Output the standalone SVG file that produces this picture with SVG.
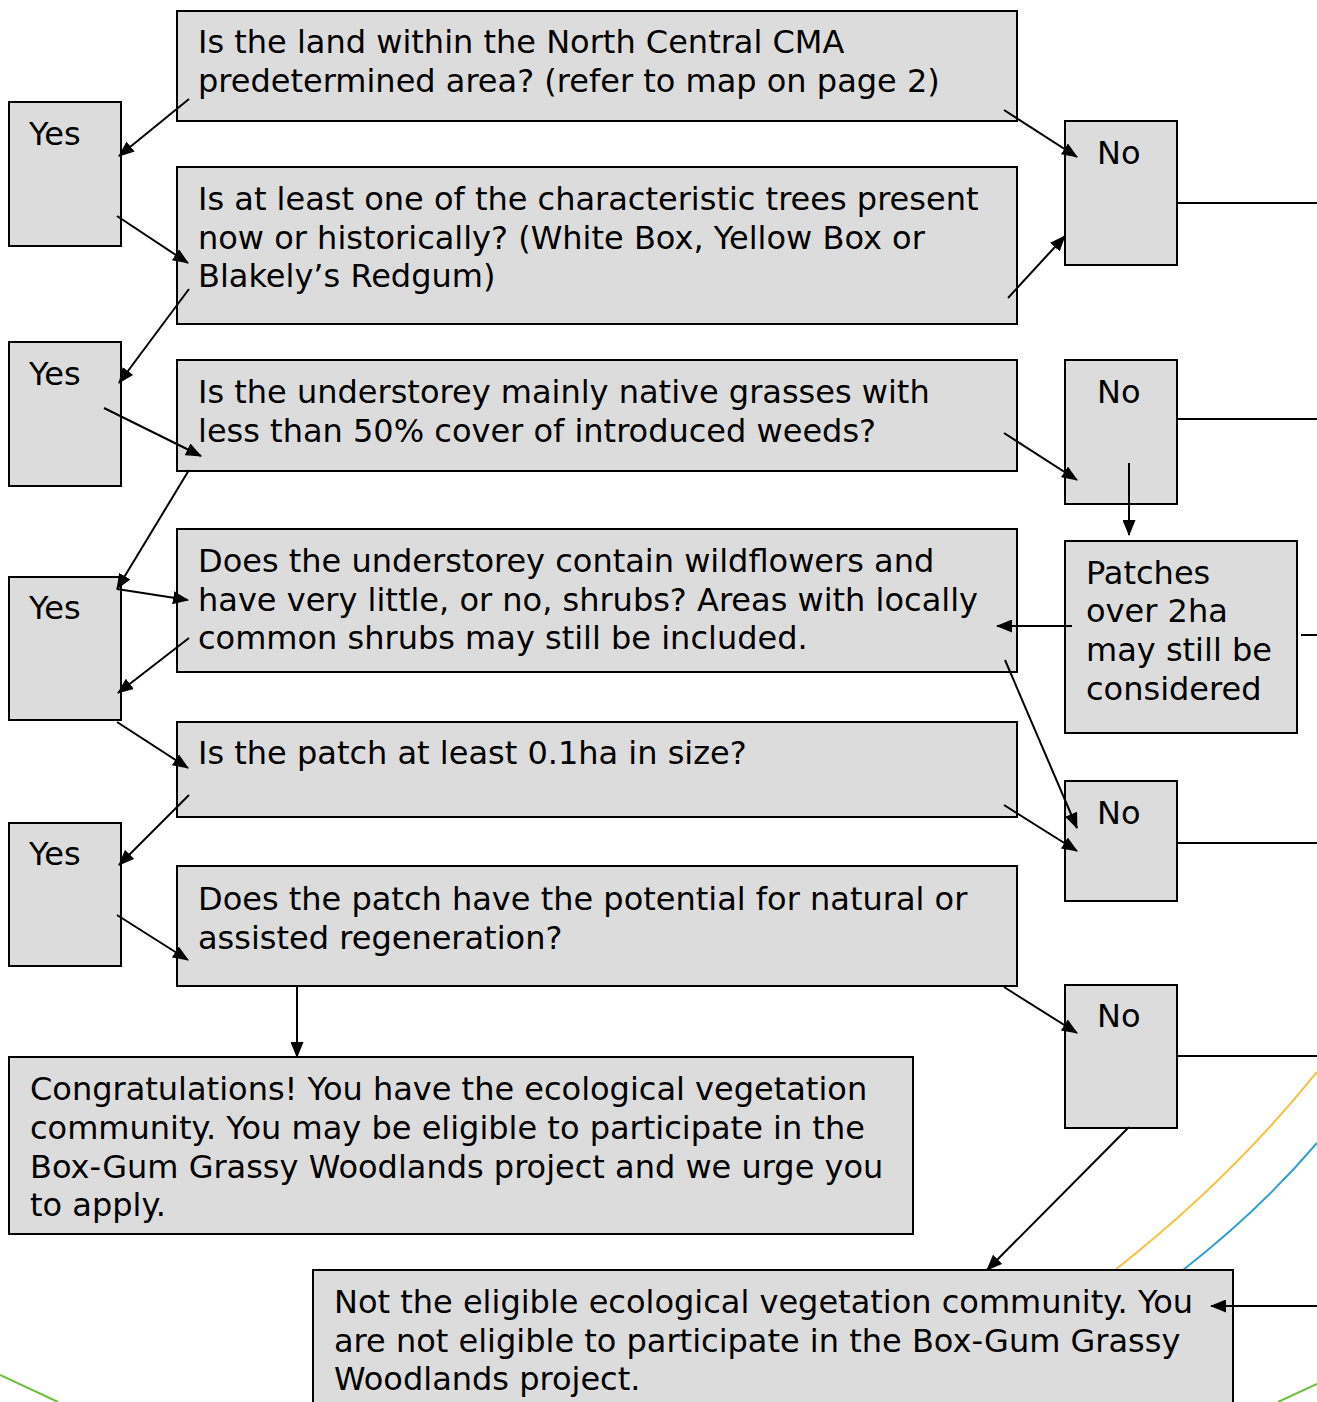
<svg xmlns="http://www.w3.org/2000/svg" width="1317" height="1402" viewBox="0 0 1317 1402">
<style>
.box{fill:#dcdcdc;stroke:#000;stroke-width:2}
text{font-family:"DejaVu Sans","Verdana",sans-serif;font-size:32px;fill:#000}
.c line{stroke:#000;stroke-width:2}
.a{marker-end:url(#ah)}
.deco{fill:none;stroke-width:2}
</style>
<defs>
<marker id="ah" viewBox="0 0 16 13" refX="15" refY="6.5" markerWidth="16" markerHeight="13" markerUnits="userSpaceOnUse" orient="auto"><path d="M0,0 L16,6.5 L0,13 z" fill="#000"/></marker>
</defs>
<rect width="1317" height="1402" fill="#fff"/>
<g id="decor">
<path class="deco" stroke="#f5c242" d="M1317,1072 Q1230,1180 1115,1270"/>
<path class="deco" stroke="#2a9fd6" d="M1317,1143 Q1260,1210 1183,1270"/>
<path class="deco" stroke="#6cbf3c" d="M0,1375 L58,1402"/>
<path class="deco" stroke="#6cbf3c" d="M1278,1402 L1317,1384"/>
</g>
<g id="q1"><rect class="box" x="177" y="11" width="840" height="110"/><text x="198" y="53">Is the land within the North Central CMA</text><text x="198" y="92">predetermined area? (refer to map on page 2)</text></g>
<g id="yes1"><rect class="box" x="9" y="102" width="112" height="144"/><text x="29" y="145">Yes</text></g>
<g id="no1"><rect class="box" x="1065" y="121" width="112" height="144"/><text x="1097" y="164">No</text></g>
<g id="q2"><rect class="box" x="177" y="167" width="840" height="157"/><text x="198" y="210">Is at least one of the characteristic trees present</text><text x="198" y="249">now or historically? (White Box, Yellow Box or</text><text x="198" y="287">Blakely’s Redgum)</text></g>
<g id="yes2"><rect class="box" x="9" y="342" width="112" height="144"/><text x="29" y="385">Yes</text></g>
<g id="q3"><rect class="box" x="177" y="360" width="840" height="111"/><text x="198" y="403">Is the understorey mainly native grasses with</text><text x="198" y="442">less than 50% cover of introduced weeds?</text></g>
<g id="no2"><rect class="box" x="1065" y="360" width="112" height="144"/><text x="1097" y="403">No</text></g>
<g id="yes3"><rect class="box" x="9" y="577" width="112" height="143"/><text x="29" y="619">Yes</text></g>
<g id="q4"><rect class="box" x="177" y="529" width="840" height="143"/><text x="198" y="572">Does the understorey contain wildflowers and</text><text x="198" y="611">have very little, or no, shrubs? Areas with locally</text><text x="198" y="649">common shrubs may still be included.</text></g>
<g id="patches"><rect class="box" x="1065" y="541" width="232" height="192"/><text x="1086" y="584">Patches</text><text x="1086" y="622">over 2ha</text><text x="1086" y="661">may still be</text><text x="1086" y="700">considered</text></g>
<g id="q5"><rect class="box" x="177" y="722" width="840" height="95"/><text x="198" y="764">Is the patch at least 0.1ha in size?</text></g>
<g id="no3"><rect class="box" x="1065" y="781" width="112" height="120"/><text x="1097" y="824">No</text></g>
<g id="yes4"><rect class="box" x="9" y="823" width="112" height="143"/><text x="29" y="865">Yes</text></g>
<g id="q6"><rect class="box" x="177" y="866" width="840" height="120"/><text x="198" y="910">Does the patch have the potential for natural or</text><text x="198" y="949">assisted regeneration?</text></g>
<g id="no4"><rect class="box" x="1065" y="985" width="112" height="143"/><text x="1097" y="1027">No</text></g>
<g id="congrats"><rect class="box" x="9" y="1057" width="904" height="177"/><text x="30" y="1100">Congratulations! You have the ecological vegetation</text><text x="30" y="1139">community. You may be eligible to participate in the</text><text x="30" y="1178">Box-Gum Grassy Woodlands project and we urge you</text><text x="30" y="1216">to apply.</text></g>
<g id="noteligible"><rect class="box" x="313" y="1270" width="920" height="140"/><text x="334" y="1313">Not the eligible ecological vegetation community. You</text><text x="334" y="1352">are not eligible to participate in the Box-Gum Grassy</text><text x="334" y="1390">Woodlands project.</text></g>
<g class="c" id="connectors">
<line x1="1177" y1="203" x2="1317" y2="203"/>
<line x1="1177" y1="419" x2="1317" y2="419"/>
<line x1="1301" y1="635" x2="1317" y2="635"/>
<line x1="1177" y1="843" x2="1317" y2="843"/>
<line x1="1177" y1="1056" x2="1317" y2="1056"/>
<line class="a" x1="189" y1="99" x2="119" y2="156"/>
<line class="a" x1="1004" y1="110" x2="1077" y2="157"/>
<line class="a" x1="117" y1="216" x2="188" y2="263"/>
<line class="a" x1="1008" y1="298" x2="1065" y2="236"/>
<line class="a" x1="189" y1="289" x2="119" y2="383"/>
<line class="a" x1="104" y1="408" x2="201" y2="456"/>
<line class="a" x1="1004" y1="433" x2="1077" y2="480"/>
<line class="a" x1="1129" y1="463" x2="1129" y2="535"/>
<line class="a" x1="189" y1="470" x2="117" y2="589"/>
<line class="a" x1="117" y1="589" x2="188" y2="600"/>
<line class="a" x1="189" y1="638" x2="118" y2="693"/>
<line class="a" x1="1072" y1="626" x2="997" y2="626"/>
<line class="a" x1="1005" y1="660" x2="1077" y2="828"/>
<line class="a" x1="117" y1="722" x2="188" y2="768"/>
<line class="a" x1="189" y1="795" x2="119" y2="865"/>
<line class="a" x1="1004" y1="805" x2="1077" y2="851"/>
<line class="a" x1="117" y1="915" x2="188" y2="960"/>
<line class="a" x1="297" y1="987" x2="297" y2="1057"/>
<line class="a" x1="1004" y1="987" x2="1077" y2="1033"/>
<line class="a" x1="1129" y1="1127" x2="987" y2="1270"/>
<line class="a" x1="1317" y1="1306" x2="1211" y2="1306"/>
</g>
</svg>
